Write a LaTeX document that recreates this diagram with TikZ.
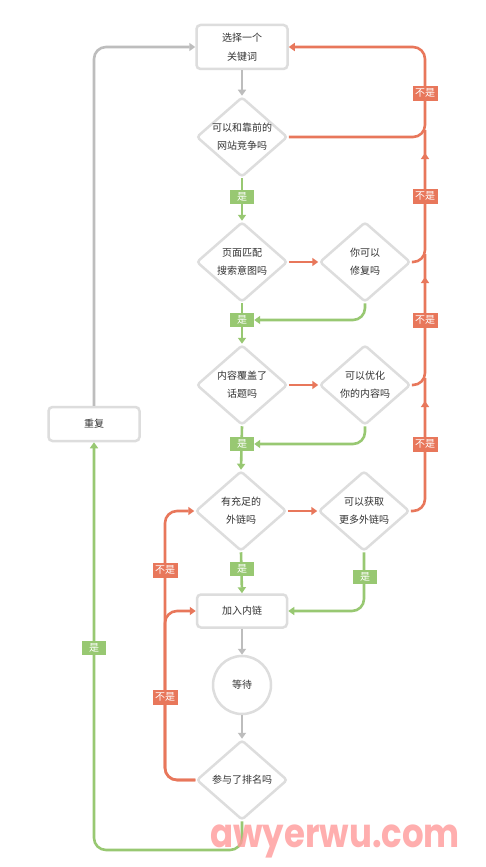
\documentclass[tikz,border=0pt]{standalone}
\usepackage{fontspec}
\newfontfamily\cjk{Noto Sans CJK SC}
\newfontfamily\wmfont{Poppins}
\usetikzlibrary{arrows.meta,shapes.geometric,decorations.markings}
\definecolor{redc}{HTML}{E8775B}
\definecolor{greenc}{HTML}{98C872}
\definecolor{grayc}{HTML}{BDBDBD}
\definecolor{bordc}{HTML}{DDDDDD}
\definecolor{txtc}{HTML}{333333}
\definecolor{wmc}{HTML}{FF9A9A}
\pgfdeclarelayer{front}
\pgfsetlayers{main,front}
\tikzset{
  basetext/.style={font=\cjk\fontsize{10}{18}\selectfont, text=txtc, align=center},
  boxn/.style={basetext, draw=bordc, line width=2.5pt, fill=white, rounded corners=4pt, minimum width=91pt, inner sep=0pt},
  dia/.style={basetext, diamond, aspect=1.14, draw=bordc, line width=2.5pt, fill=white, rounded corners=3pt, minimum width=91pt, minimum height=80pt, inner sep=0pt},
  circn/.style={basetext, circle, draw=bordc, line width=2.5pt, fill=white, minimum size=58pt, inner sep=0pt},
  conn/.style={line width=2.6pt, rounded corners=12pt, -{Triangle[length=6pt,width=8pt]}},
  plainconn/.style={line width=2.6pt, rounded corners=12pt},
  midarr/.style={postaction={decorate}, decoration={markings, mark=at position -23pt with {\arrow{Triangle[length=6pt,width=8pt]}}}},
  yes/.style={fill=greenc, text=white, font=\cjk\fontsize{10}{10}\selectfont, minimum width=24pt, minimum height=14pt, inner sep=1pt},
  no/.style={fill=redc, text=white, font=\cjk\fontsize{10}{10}\selectfont, minimum width=25pt, minimum height=15pt, inner sep=1pt}
}
\begin{document}
\begin{tikzpicture}[x=1pt,y=-1pt]
\useasboundingbox (0,0) rectangle (485,867);
\fill[white] (0,0) rectangle (485,867);

% nodes
\node[boxn, minimum height=44pt, font=\cjk\fontsize{10}{19}\selectfont] (kw) at (242,47) {选择一个\\关键词};
\node[dia] (d1) at (242,137) {可以和靠前的\\网站竞争吗};
\node[dia] (d2) at (242,262) {页面匹配\\搜索意图吗};
\node[dia] (d3) at (365,262) {你可以\\修复吗};
\node[dia] (d4) at (242,385) {内容覆盖了\\话题吗};
\node[dia] (d5) at (365,385) {可以优化\\你的内容吗};
\node[dia] (d6) at (241,511) {有充足的\\外链吗};
\node[dia] (d7) at (364,511) {可以获取\\更多外链吗};
\node[boxn, minimum width=90pt, minimum height=33pt] (link) at (242,611) {加入内链};
\node[circn] (wait) at (242,685) {等待};
\node[dia] (d8) at (242,780) {参与了排名吗};
\node[boxn, minimum height=34pt] (rep) at (94,424) {重复};

% labels (front layer)
\begin{pgfonlayer}{front}
\node[yes] (y1) at (242,197) {是};
\node[yes] (y2) at (242,320) {是};
\node[yes] (y3) at (242,444) {是};
\node[yes] (y4) at (242,569) {是};
\node[yes] (y5) at (365,577) {是};
\node[yes] (y6) at (94,648) {是};
\node[no] (n1) at (425,93) {不是};
\node[no] (n2) at (425,196) {不是};
\node[no] (n3) at (425,320) {不是};
\node[no] (n4) at (425,444) {不是};
\node[no] (n5) at (165,570) {不是};
\node[no] (n6) at (165,697) {不是};
\end{pgfonlayer}

% coordinates
\coordinate (rtop) at (425,47);
\coordinate (j1) at (425,130);
\coordinate (j2) at (425,254);
\coordinate (j3) at (425,378);
\coordinate (l1) at (165,511);
\coordinate (l2) at (165,611);
\coordinate (gb) at (242,850);

% gray connectors
\draw[conn, grayc] (kw) -- (d1);
\draw[conn, grayc] (link) -- (wait);
\draw[conn, grayc] (wait) -- (d8);
\draw[conn, grayc] (rep.north) |- (kw.west);

% green connectors
\draw[conn, greenc] (d1.south) -- (d2.north);
\draw[conn, greenc] (d2.south) -- (d4.north);
\draw[conn, greenc] (d4.south) -- (d6.north);
\draw[conn, greenc] (d6.south) -- (link.north);
\draw[conn, greenc] (d3.south) |- (y2.east);
\draw[conn, greenc] (d5.south) |- (y3.east);
\draw[conn, greenc] (d7.south) |- (link.east);
\draw[conn, greenc] (d8.south) -- (gb) -| (rep.south);

% red connectors
\draw[conn, redc] (d2.east) -- (d3.west);
\draw[conn, redc] (d4.east) -- (d5.west);
\draw[conn, redc] (d6.east) -- (d7.west);
\draw[conn, redc] (d1.east) -| (rtop) -- (kw.east);
\draw[plainconn, redc, midarr] (d3.east) -| (j1);
\draw[plainconn, redc, midarr] (d5.east) -| (j2);
\draw[plainconn, redc, midarr] (d7.east) -| (j3);
\draw[conn, redc] (d8.west) -| (l1) -- (d6.west);
\draw[conn, redc] (d8.west) -| (l2) -- (link.west);

% watermark
\begin{pgfonlayer}{front}
\node[anchor=base west, inner sep=0pt, font=\wmfont\bfseries\fontsize{40}{40}\selectfont, text=wmc, opacity=0.8] (wm) at (210,847) {\scalebox{0.85}[1]{awyerwu.com}};
\end{pgfonlayer}
\end{tikzpicture}
\end{document}
